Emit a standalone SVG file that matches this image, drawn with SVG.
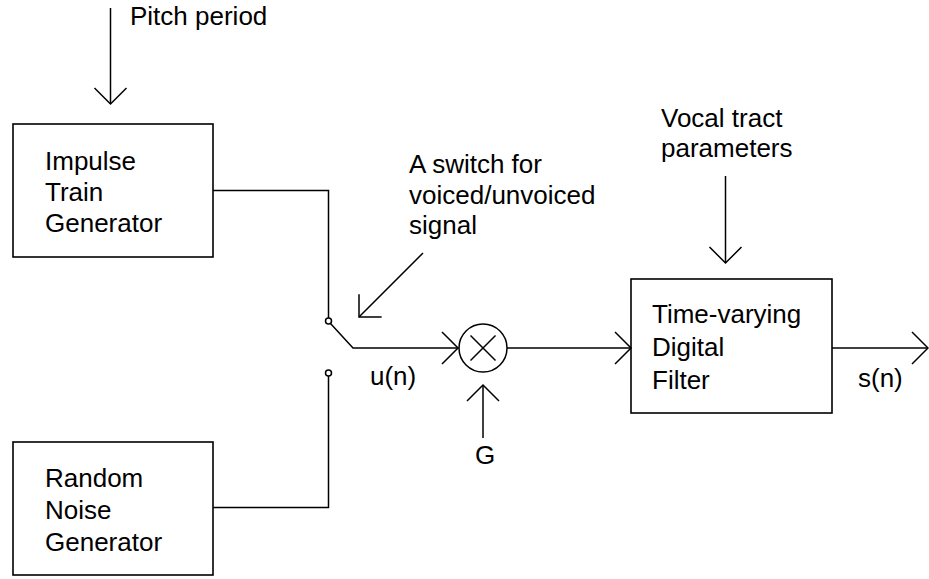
<svg xmlns="http://www.w3.org/2000/svg" width="929" height="579" viewBox="0 0 929 579">
<style>
.box{fill:#fff;stroke:#000;stroke-width:1.6}
.ln{fill:none;stroke:#000;stroke-width:1.5}
.t{font-family:"Liberation Sans",Arial,sans-serif;font-size:26px;fill:#000}
</style>
<defs>
<marker id="ah" viewBox="-18 -18 20 36" refX="0" refY="0" markerWidth="20" markerHeight="36" markerUnits="userSpaceOnUse" orient="auto">
<path d="M-16,-16 L0,0 L-16,16" fill="none" stroke="#000" stroke-width="1.5"/>
</marker>
</defs>
<rect width="929" height="579" fill="#fff"/>
<g id="impulse">
<rect class="box" x="13" y="124" width="200" height="133"/>
<text class="t" x="45" y="170">Impulse</text>
<text class="t" x="45" y="201">Train</text>
<text class="t" x="45" y="232">Generator</text>
</g>
<g id="noise">
<rect class="box" x="13" y="442" width="200" height="133"/>
<text class="t" x="45" y="487">Random</text>
<text class="t" x="45" y="519">Noise</text>
<text class="t" x="45" y="551">Generator</text>
</g>
<g id="multiplier">
<circle class="ln" cx="483" cy="348" r="24"/>
<path class="ln" d="M470.5,335.5 L495.5,360.5 M495.5,335.5 L470.5,360.5"/>
</g>
<g id="filter">
<rect class="box" x="631" y="279" width="201" height="134"/>
<text class="t" x="652" y="323">Time-varying</text>
<text class="t" x="652" y="356">Digital</text>
<text class="t" x="652" y="389">Filter</text>
</g>
<g id="switch">
<circle class="ln" cx="328.5" cy="321" r="3"/>
<circle class="ln" cx="328.5" cy="373" r="3"/>
</g>
<g id="labels">
<text class="t" x="130" y="25">Pitch period</text>
<text class="t" x="409" y="173">A switch for</text>
<text class="t" x="409" y="204">voiced/unvoiced</text>
<text class="t" x="409" y="234">signal</text>
<text class="t" x="370" y="385">u(n)</text>
<text class="t" x="485" y="464" text-anchor="middle">G</text>
<text class="t" x="661" y="127">Vocal tract</text>
<text class="t" x="661" y="157">parameters</text>
<text class="t" x="858" y="387">s(n)</text>
</g>
<g id="connectors">
<path class="ln" d="M110.5,8 L110.5,104" marker-end="url(#ah)"/>
<path class="ln" d="M213,190.5 L328.5,190.5 L328.5,318"/>
<path class="ln" d="M213,507.5 L328.5,507.5 L328.5,376"/>
<path class="ln" d="M330.5,323.5 L353,348 L458,348" marker-end="url(#ah)"/>
<path class="ln" d="M423,253 L359,317" marker-end="url(#ah)"/>
<path class="ln" d="M483,438 L483,385" marker-end="url(#ah)"/>
<path class="ln" d="M507,348 L631,348" marker-end="url(#ah)"/>
<path class="ln" d="M725.5,176 L725.5,263" marker-end="url(#ah)"/>
<path class="ln" d="M832,348 L928,348" marker-end="url(#ah)"/>
</g>
</svg>
